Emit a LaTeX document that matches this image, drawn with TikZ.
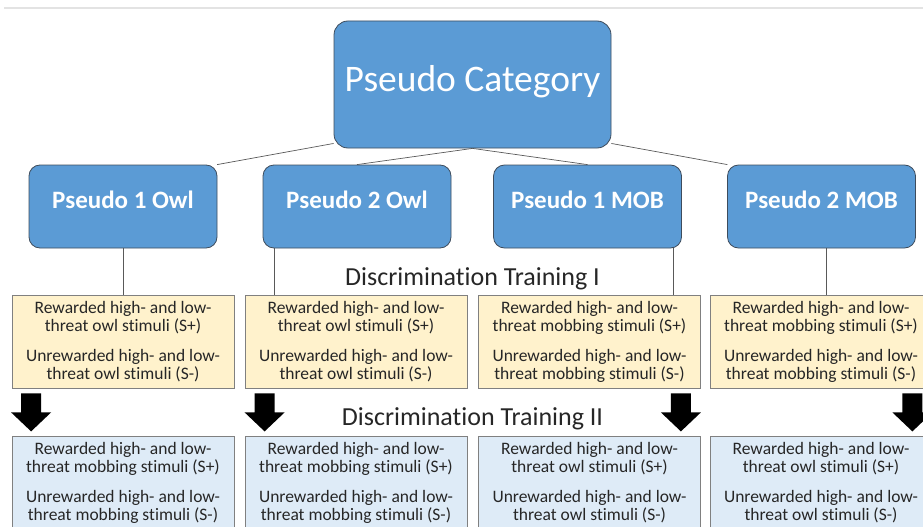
\documentclass[tikz,border=0pt]{standalone}
\usepackage{fontspec}
\setmainfont{Carlito}[Ligatures=NoCommon]
\usetikzlibrary{calc}
\definecolor{cblue}{HTML}{5B9BD5}
\definecolor{cedge}{HTML}{3E4C5C}
\definecolor{cyellow}{HTML}{FFF2CC}
\definecolor{clight}{HTML}{DEEBF7}
\definecolor{cgrey}{HTML}{808080}
\definecolor{ctext}{HTML}{262626}
\newcommand{\stimtext}[1]{Rewarded high- and low-\\threat #1 stimuli (S+)\\[12pt]Unrewarded high- and low-\\threat #1 stimuli (S-)}
\tikzset{
  every picture/.style={x=1pt, y=-1pt, line width=0.8pt},
  catbox/.style={draw=cedge, fill=cblue, rounded corners=14pt, text=white, minimum width=277pt, minimum height=127pt, inner sep=0pt, text height=28pt, text depth=14pt, font=\fontsize{37.5}{40}\selectfont},
  subbox/.style={draw=cedge, fill=cblue, rounded corners=11pt, text=white, minimum width=188pt, minimum height=83pt, inner sep=0pt, text height=18pt, text depth=14pt, font=\bfseries\fontsize{25}{28}\selectfont},
  stagebox/.style={draw=cgrey, fill=#1, minimum width=222pt, minimum height=93pt, inner sep=0pt, align=center, text=ctext, font=\fontsize{17.5}{18}\selectfont},
  stagebox/.default=cyellow,
  link/.style={draw=black!65, line width=0.7pt},
  stagelabel/.style={text=ctext, inner sep=0pt, font=\fontsize{26}{28}\selectfont},
  topline/.style={draw=black!11, line width=2pt},
  downarrow/.pic={\fill[black] (-10,0) -- (10,0) -- (10,19) -- (20,19) -- (0,38) -- (-20,19) -- (-10,19) -- cycle;},
}

\begin{document}
\begin{tikzpicture}
  \useasboundingbox (0,0) rectangle (923,527);
  \clip (0,0) rectangle (923,527);
  \draw[topline] (4,8) -- (923,8);
  % category and the four pseudo groups
  \node[catbox] (cat) at (472.5,84.5) {Pseudo Category};
  \foreach \n/\x/\t in {1/123/Pseudo 1 Owl, 2/357/Pseudo 2 Owl, 3/587.5/Pseudo 1 MOB, 4/821.5/Pseudo 2 MOB}
    { \node[subbox] (p\n) at (\x,206.5) {\t}; }
  % discrimination training I and II
  \foreach \n/\x/\a/\b in {1/123/owl/mobbing, 2/356/owl/mobbing, 3/589.5/mobbing/owl, 4/821/mobbing/owl}
    { \node[stagebox=cyellow] (ta\n) at (\x,341.5) {\stimtext{\a}};
      \node[stagebox=clight] (tb\n) at (\x,482.5) {\stimtext{\b}}; }
  \node[stagelabel, anchor=base] (lab1) at (472.5,285.5) {Discrimination Training I};
  \node[stagelabel, anchor=base] (lab2) at (472.5,425) {Discrimination Training II};
  % connectors
  \draw[link] (cat.203) -- (p1.24);
  \draw[link] (cat.south) -- (p2.north);
  \draw[link] (cat.south) -- (p3.north);
  \draw[link] (cat.-23) -- (p4.156);
  \draw[link] (p1.south) -- (ta1.north);
  \draw[link] (p2.207) -- (p2.207 |- ta2.north);
  \draw[link] (p3.-26) -- (p3.-26 |- ta3.north);
  \draw[link] (p4.-83) -- (p4.-83 |- ta4.north);
  % block arrows from I to II
  \pic at ([xshift=19.5pt,yshift=-5pt]ta1.south west) {downarrow};
  \pic at ([xshift=20pt,yshift=-5pt]ta2.south west) {downarrow};
  \pic at ([xshift=-20pt,yshift=-5pt]ta3.south east) {downarrow};
  \pic at ([xshift=-20pt,yshift=-5pt]ta4.south east) {downarrow};
\end{tikzpicture}
\end{document}
